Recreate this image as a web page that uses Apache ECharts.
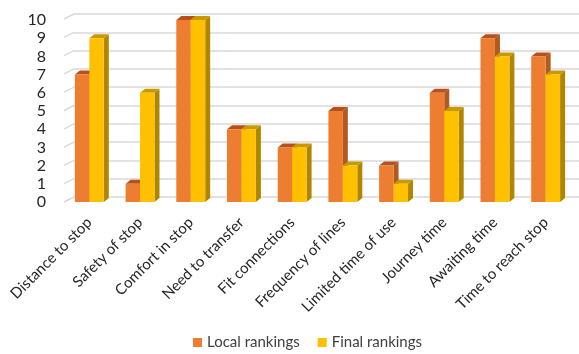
<!DOCTYPE html>
<html>
<head>
<meta charset="utf-8">
<script src="https://cdn.jsdelivr.net/npm/echarts@6/dist/echarts.min.js"></script>
<style>
    html, body { margin: 0; padding: 0; background: #fff; }
    #chart { width: 579px; height: 354px; }
</style>
</head>
<body>
<div id="chart"></div>
<script>
// data
var categories = [
    'Distance to stop', 'Safety of stop', 'Comfort in stop', 'Need to transfer', 'Fit connections',
    'Frequency of lines', 'Limited time of use', 'Journey time', 'Awaiting time', 'Time to reach stop'
];
var localRankings = [7, 1, 10, 4, 3, 5, 2, 6, 9, 8];
var finalRankings = [9, 6, 10, 4, 3, 2, 1, 5, 8, 7];
var yTicks = [0, 1, 2, 3, 4, 5, 6, 7, 8, 9, 10];

var FONT = 'Lato';

// 3d-ish column: front face, right side, top
const makeBar = (shift, face, side, top) => {
    return function (params, api) {
        var i = api.value(0);
        var v = api.value(1);
        var base = api.coord([i, 0]);
        var head = api.coord([i, v]);
        var band = api.size([1, 0])[0];
        var w = band * 0.285;
        var dx = 5, dy = -4;
        var x0 = base[0] + shift * w;
        var x1 = x0 + w;
        var yb = base[1], yt = head[1];
        return {
            type: 'group',
            children: [
                {
                    type: 'polygon',
                    shape: { points: [[x1, yb], [x1 + dx, yb + dy], [x1 + dx, yt + dy], [x1, yt]] },
                    style: { fill: side }
                },
                {
                    type: 'polygon',
                    shape: { points: [[x0, yt], [x0 + dx, yt + dy], [x1 + dx, yt + dy], [x1, yt]] },
                    style: { fill: top }
                },
                {
                    type: 'rect',
                    shape: { x: x0, y: yt, width: w, height: yb - yt },
                    style: { fill: face }
                }
            ]
        };
    };
};

// diagonal floor/wall joins at left side
const renderDiag = (params, api) => {
    var p = api.coord([0, api.value(1)]);
    var band = api.size([1, 0])[0];
    var x = p[0] - band / 2;
    return {
        type: 'line',
        shape: { x1: x - 10, y1: p[1] + 5, x2: x, y2: p[1] },
        style: { stroke: '#d9d9d9', lineWidth: 1.5 }
    };
};

let chart = echarts.init(document.getElementById('chart'));

let option = {
    animation: false,
    grid: [
        { left: 64, top: 20, width: 507, height: 182 },
        { left: 74, top: 14, right: 0, height: 183 }
    ],
    legend: {
        bottom: -1,
        left: 188,
        icon: 'rect',
        itemWidth: 9,
        itemHeight: 9,
        itemGap: 18,
        textStyle: { fontFamily: FONT, fontSize: 15, color: '#404040' },
        data: ['Local rankings', 'Final rankings']
    },
    xAxis: [
        {
            type: 'category',
            gridIndex: 0,
            data: categories,
            axisLine: { show: false },
            axisTick: { show: false },
            axisLabel: {
                interval: 0,
                rotate: 45,
                margin: 18,
                fontFamily: FONT,
                fontSize: 15,
                color: '#262626'
            }
        },
        {
            type: 'category',
            gridIndex: 1,
            data: categories,
            show: false
        }
    ],
    yAxis: [
        {
            type: 'value',
            gridIndex: 0,
            min: 0,
            max: 10,
            interval: 1,
            splitLine: { show: false },
            axisLine: { show: false },
            axisTick: { show: false },
            axisLabel: { margin: 18, fontFamily: FONT, fontSize: 16, color: '#262626' }
        },
        {
            type: 'value',
            gridIndex: 1,
            min: 0,
            max: 10,
            interval: 1,
            axisLine: { show: false },
            axisTick: { show: false },
            axisLabel: { show: false },
            splitLine: { lineStyle: { color: '#d9d9d9', width: 1.5 } }
        }
    ],
    series: [
        {
            name: 'walls',
            type: 'custom',
            xAxisIndex: 1,
            yAxisIndex: 1,
            renderItem: renderDiag,
            data: yTicks.map(function (t) { return [0, t]; }),
            silent: true,
            z: 1
        },
        {
            name: 'Local rankings',
            type: 'custom',
            xAxisIndex: 0,
            yAxisIndex: 0,
            itemStyle: { color: '#ED7D31' },
            renderItem: makeBar(-1, '#ED7D31', '#AE5A21', '#B5521C'),
            data: localRankings.map(function (v, i) { return [i, v]; }),
            z: 2
        },
        {
            name: 'Final rankings',
            type: 'custom',
            xAxisIndex: 0,
            yAxisIndex: 0,
            itemStyle: { color: '#FFC000' },
            renderItem: makeBar(0, '#FFC000', '#B08600', '#C89A00'),
            data: finalRankings.map(function (v, i) { return [i, v]; }),
            z: 3
        }
    ]
};

chart.setOption(option);
</script>
</body>
</html>
